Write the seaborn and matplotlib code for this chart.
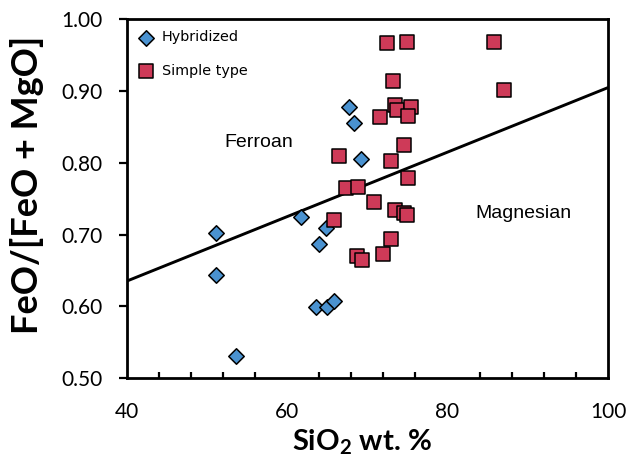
import matplotlib
matplotlib.use("Agg")
import matplotlib.pyplot as plt
import seaborn as sns
import pandas as pd
from matplotlib.ticker import MultipleLocator

# ---- data ----
hyb_x = [51.1, 51.1, 53.6, 61.8, 64.8, 64.0, 63.6, 65.0, 65.8, 67.7, 68.3, 69.2]
hyb_y = [0.702, 0.644, 0.530, 0.724, 0.709, 0.687, 0.599, 0.599, 0.608, 0.878, 0.856, 0.806]

simple_x = [72.5, 75.0, 85.8, 87.0, 73.2, 73.5, 73.7, 75.4, 75.1, 71.6, 74.6, 66.5,
            73.0, 75.1, 67.3, 68.8, 70.8, 65.8, 73.5, 74.6, 75.0, 73.0, 72.0, 68.7, 69.4]
simple_y = [0.967, 0.968, 0.968, 0.902, 0.914, 0.881, 0.874, 0.878, 0.865, 0.864, 0.825, 0.810,
            0.803, 0.779, 0.765, 0.767, 0.746, 0.720, 0.734, 0.730, 0.728, 0.694, 0.673, 0.670, 0.664]

boundary_x = [40, 100]
boundary_y = [0.635, 0.905]

groups = ["Hybridized", "Simple type"]
x_ticks = [40, 60, 80, 100]
y_ticks = [0.50, 0.60, 0.70, 0.80, 0.90, 1.00]

df = pd.DataFrame({
    "SiO2": hyb_x + simple_x,
    "Fe": hyb_y + simple_y,
    "group": [groups[0]] * len(hyb_x) + [groups[1]] * len(simple_x),
})

sns.set_theme(style="white")
plt.rcParams["font.family"] = ["Lato", "DejaVu Sans"]
plt.rcParams["mathtext.fontset"] = "custom"
plt.rcParams["mathtext.bf"] = "Lato:bold"
plt.rcParams["mathtext.rm"] = "Lato"
for k in ["text.color", "axes.labelcolor", "xtick.color", "ytick.color", "axes.edgecolor"]:
    plt.rcParams[k] = "black"

fig = plt.figure(figsize=(6.32, 4.63), dpi=100)
ax = fig.add_axes([0.2002, 0.1836, 0.7618, 0.7743])

sns.lineplot(x=boundary_x, y=boundary_y, ax=ax, color="black", linewidth=2.1, zorder=1)

palette = {groups[0]: "#4A92D0", groups[1]: "#CE3A58"}
markers = {groups[0]: "D", groups[1]: "s"}
sizes = {groups[0]: 62, groups[1]: 95}
for g in groups:
    sub = df[df["group"] == g]
    sns.scatterplot(data=sub, x="SiO2", y="Fe", ax=ax, color=palette[g], marker=markers[g],
                    s=sizes[g], edgecolor="black", linewidth=1.1, label=g, zorder=3)

ax.set_xlim(40, 100)
ax.set_ylim(0.5, 1.0)
ax.set_xticks(x_ticks)
ax.set_yticks(y_ticks)
ax.set_yticklabels([f"{v:.2f}" for v in y_ticks])
ax.xaxis.set_minor_locator(MultipleLocator(4))

ax.tick_params(axis="x", which="major", direction="in", length=7, width=1.6, labelsize=15, pad=17)
ax.tick_params(axis="x", which="minor", direction="in", length=4.5, width=1.6, bottom=True)
ax.tick_params(axis="y", which="major", direction="out", length=6, width=1.6, labelsize=15, pad=11, left=True)

for sp in ax.spines.values():
    sp.set_visible(True)
    sp.set_color("black")
    sp.set_linewidth(2.0)

ax.set_xlabel(r"SiO$_{\mathbf{2}}$ wt. %", fontsize=21, fontweight="bold")
ax.set_ylabel("FeO/[FeO + MgO]", fontsize=26, fontweight="bold")
ax.xaxis.set_label_coords(0.488, -0.1785)
ax.xaxis.label.set_va("center")
ax.yaxis.set_label_coords(-0.206, 0.539)
ax.yaxis.label.set_va("center")

ax.text(56.5, 0.828, "Ferroan", fontsize=14, ha="center", va="center", family="Liberation Sans")
ax.text(89.5, 0.729, "Magnesian", fontsize=14, ha="center", va="center", family="Liberation Sans")

leg = ax.legend(loc="upper left", frameon=False, handletextpad=0.5,
                labelspacing=1.35, borderaxespad=0.35, handlelength=1.2,
                prop={"family": "DejaVu Sans", "size": 10.4})

fig.savefig("out.png", dpi=100)
